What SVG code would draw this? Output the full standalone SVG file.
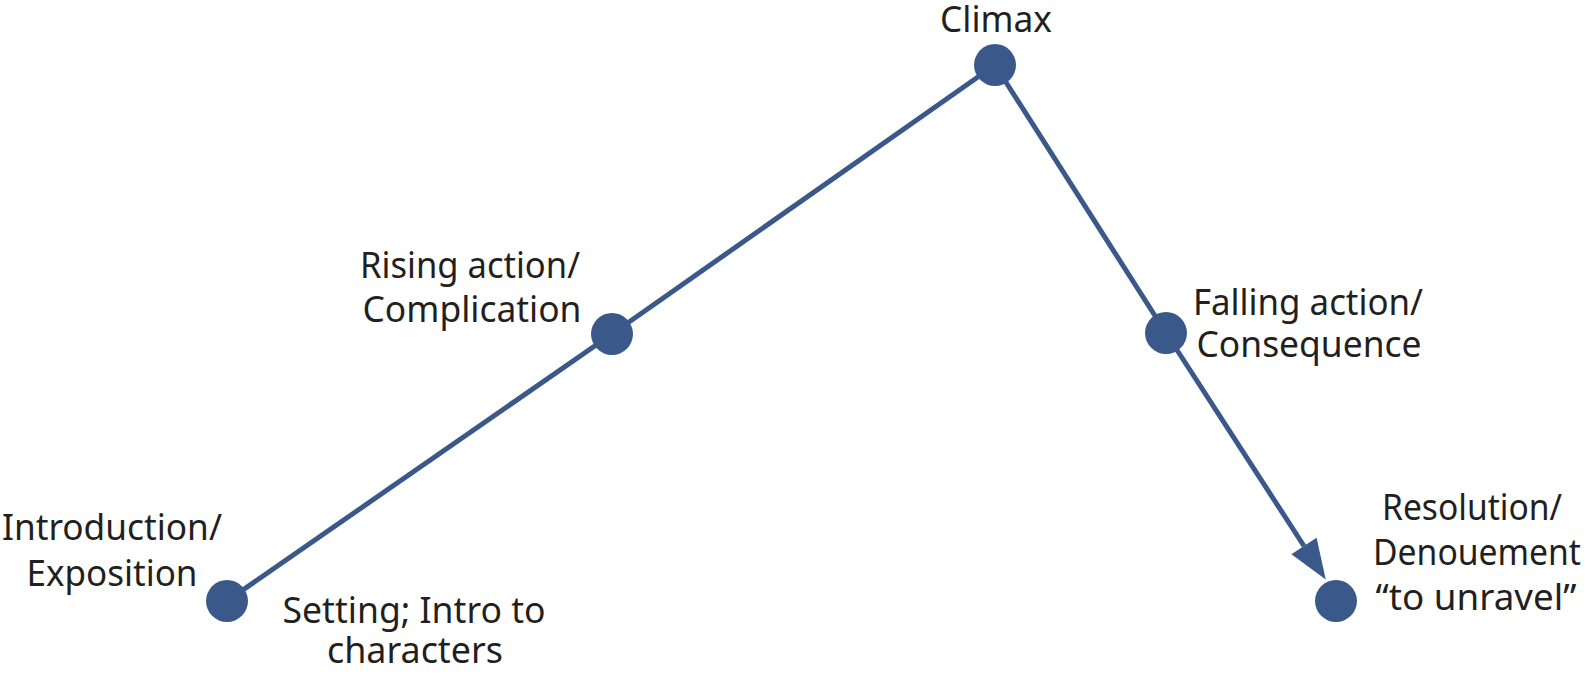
<svg xmlns="http://www.w3.org/2000/svg" width="1585" height="678" viewBox="0 0 1585 678">
<style>
.edge{stroke:#3A5889;stroke-width:5;fill:none}
.dot{fill:#3A5889}
.lbl{font-family:"Noto Sans","Liberation Sans",sans-serif;font-size:36px;fill:#231F20;text-anchor:middle}
</style>
<defs>
<marker id="arrow" markerUnits="userSpaceOnUse" markerWidth="40" markerHeight="32" viewBox="0 -16 40 32" refX="0" refY="0" orient="auto" overflow="visible">
<path d="M0,-15 L40,0 L0,15 z" fill="#3A5889"/>
</marker>
</defs>
<rect width="1585" height="678" fill="#ffffff"/>
<g id="connectors">
<line class="edge" x1="227" y1="601" x2="612" y2="334"/>
<line class="edge" x1="612" y1="334" x2="995" y2="65"/>
<line class="edge" x1="995" y1="65" x2="1166" y2="333"/>
<line class="edge" x1="1166" y1="333" x2="1304" y2="546" marker-end="url(#arrow)"/>
</g>
<g id="intro">
<circle class="dot" cx="227" cy="601" r="21"/>
<text class="lbl" x="112" y="540" textLength="220" lengthAdjust="spacingAndGlyphs">Introduction/</text>
<text class="lbl" x="112" y="586" textLength="171" lengthAdjust="spacingAndGlyphs">Exposition</text>
<text class="lbl" x="414" y="623" textLength="263" lengthAdjust="spacingAndGlyphs">Setting; Intro to</text>
<text class="lbl" x="415" y="663" textLength="176" lengthAdjust="spacingAndGlyphs">characters</text>
</g>
<g id="rising">
<circle class="dot" cx="612" cy="334" r="21"/>
<text class="lbl" x="470" y="278" textLength="220" lengthAdjust="spacingAndGlyphs">Rising action/</text>
<text class="lbl" x="472" y="322" textLength="219" lengthAdjust="spacingAndGlyphs">Complication</text>
</g>
<g id="climax">
<circle class="dot" cx="995" cy="65" r="21"/>
<text class="lbl" x="996" y="32" textLength="112" lengthAdjust="spacingAndGlyphs">Climax</text>
</g>
<g id="falling">
<circle class="dot" cx="1166" cy="333" r="21"/>
<text class="lbl" x="1308" y="315" textLength="230" lengthAdjust="spacingAndGlyphs">Falling action/</text>
<text class="lbl" x="1309" y="357" textLength="225" lengthAdjust="spacingAndGlyphs">Consequence</text>
</g>
<g id="resolution">
<circle class="dot" cx="1336" cy="601" r="21"/>
<text class="lbl" x="1472" y="520" textLength="180" lengthAdjust="spacingAndGlyphs">Resolution/</text>
<text class="lbl" x="1477" y="565" textLength="208" lengthAdjust="spacingAndGlyphs">Denouement</text>
<text class="lbl" x="1476" y="610" textLength="201" lengthAdjust="spacingAndGlyphs">“to unravel”</text>
</g>
</svg>
